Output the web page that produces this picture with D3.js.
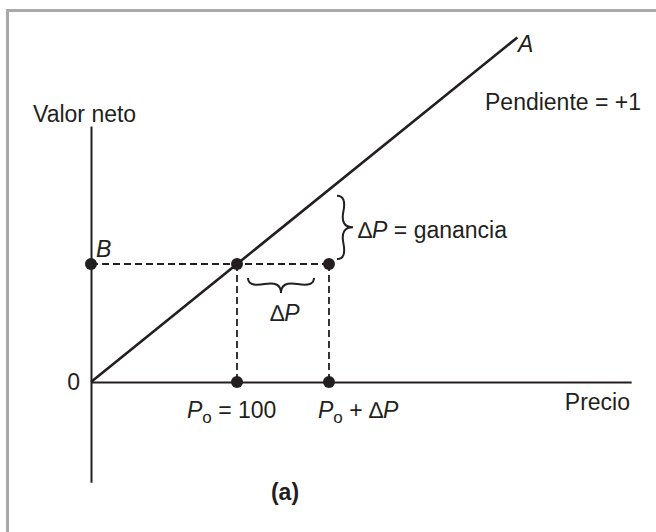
<!DOCTYPE html>
<html>
<head>
<meta charset="utf-8">
<script src="https://cdn.jsdelivr.net/npm/d3@7"></script>
<style>
  body { margin: 0; background: #fff; }
  text { font-family: "Liberation Sans", Arial, sans-serif; fill: #231f20; }
</style>
</head>
<body>
<script>
const svgW = 656;
const svgH = 532;
const ink = '#231f20';

// datos (precio y valor neto en las mismas unidades)
const priceExtent = [0, 370];      // eje x
const valueExtent = [-85, 217];    // eje y
const p0 = 100;
const deltaP = 63;
const lineA = [[0, 0], [292, 292]];  // pendiente = +1
const dots = [[0, p0], [p0, p0], [p0 + deltaP, p0], [p0, 0], [p0 + deltaP, 0]];

const svg = d3.select('body')
  .append('svg')
  .attr('width', svgW)
  .attr('height', svgH);

// marco gris
svg.append('rect')
  .attr('x', 7.5).attr('y', 10.5)
  .attr('width', 700).attr('height', 600)
  .attr('fill', 'none')
  .attr('stroke', '#a9a9a9')
  .attr('stroke-width', 3);

const ox = 91, oy = 382;      // origen
const kx = 1.46, ky = 1.18;   // px por unidad
const x = d3.scaleLinear()
  .domain(priceExtent)
  .range(priceExtent.map(v => ox + v * kx));
const y = d3.scaleLinear()
  .domain(valueExtent)
  .range(valueExtent.map(v => oy - v * ky));

// ejes
svg.append('g')
  .attr('transform', `translate(0, ${y(0)})`)
  .call(d3.axisBottom(x).tickValues([]).tickSizeOuter(0))
  .call(g => g.select('.domain').attr('stroke', ink).attr('stroke-width', 2));

svg.append('g')
  .attr('transform', `translate(${x(0)}, 0)`)
  .call(d3.axisLeft(y).tickValues([]).tickSizeOuter(0))
  .call(g => g.select('.domain').attr('stroke', ink).attr('stroke-width', 2));

// línea A
const line = d3.line().x(d => x(d[0])).y(d => y(d[1]));
svg.append('path')
  .attr('d', line(lineA))
  .attr('fill', 'none')
  .attr('stroke', ink)
  .attr('stroke-width', 2.6);

// líneas discontinuas
const dashed = [
  [[0, p0], [p0 + deltaP, p0]],
  [[p0, p0], [p0, 0]],
  [[p0 + deltaP, p0], [p0 + deltaP, 0]]
];
svg.selectAll('.dash')
  .data(dashed)
  .enter()
  .append('path')
  .attr('class', 'dash')
  .attr('d', line)
  .attr('fill', 'none')
  .attr('stroke', ink)
  .attr('stroke-width', 1.8)
  .attr('stroke-dasharray', '7,4');

// puntos
svg.selectAll('.dot')
  .data(dots)
  .enter()
  .append('circle')
  .attr('class', 'dot')
  .attr('cx', d => x(d[0]))
  .attr('cy', d => y(d[1]))
  .attr('r', 6)
  .attr('fill', ink);

// llaves
function brace(x1, y1, x2, y2, w, q) {
  let dx = x1 - x2, dy = y1 - y2;
  const len = Math.sqrt(dx * dx + dy * dy);
  dx = dx / len; dy = dy / len;
  const qx1 = x1 + q * w * dy, qy1 = y1 - q * w * dx;
  const qx2 = (x1 - .25 * len * dx) + (1 - q) * w * dy, qy2 = (y1 - .25 * len * dy) - (1 - q) * w * dx;
  const tx1 = (x1 - .5 * len * dx) + w * dy, ty1 = (y1 - .5 * len * dy) - w * dx;
  const qx3 = x2 + q * w * dy, qy3 = y2 - q * w * dx;
  const qx4 = (x1 - .75 * len * dx) + (1 - q) * w * dy, qy4 = (y1 - .75 * len * dy) - (1 - q) * w * dx;
  return `M ${x1} ${y1} Q ${qx1} ${qy1} ${qx2} ${qy2} T ${tx1} ${ty1} ` +
         `M ${x2} ${y2} Q ${qx3} ${qy3} ${qx4} ${qy4} T ${tx1} ${ty1}`;
}

// ganancia: de p0 a p0 + deltaP en el eje de valor
svg.append('path')
  .attr('d', brace(x(p0 + deltaP) + 8, y(p0) - 5, x(p0 + deltaP) + 8, y(p0 + deltaP) + 6, 16, 0.6))
  .attr('fill', 'none').attr('stroke', ink).attr('stroke-width', 2);

// deltaP debajo de la línea discontinua
svg.append('path')
  .attr('d', brace(x(p0) + 11, y(p0) + 14, x(p0 + deltaP) - 15, y(p0) + 14, 15, 0.6))
  .attr('fill', 'none').attr('stroke', ink).attr('stroke-width', 2);

// textos
const fs = 23;
function label(px, py, parts, anchor) {
  const t = svg.append('text')
    .attr('x', px).attr('y', py)
    .attr('font-size', fs)
    .attr('text-anchor', anchor || 'start');
  parts.forEach(p => {
    const s = t.append('tspan').text(p.t);
    if (p.i) s.attr('font-style', 'italic');
    if (p.sub) s.attr('font-size', 17).attr('dy', 5);
    if (p.up) s.attr('dy', -5);
  });
  return t;
}

label(33, 122, [{ t: 'Valor neto' }]);
label(96, 257, [{ t: 'B', i: true }]);
label(518, 52, [{ t: 'A', i: true }]);
label(485, 110, [{ t: 'Pendiente = +1' }]);
label(358, 238, [{ t: '\u2206' }, { t: 'P', i: true }, { t: ' = ganancia' }]);
label(x((p0 + p0 + deltaP) / 2) + 2, 321, [{ t: '\u2206' }, { t: 'P', i: true }], 'middle');
label(80, 390, [{ t: '0' }], 'end');
label(187, 418, [{ t: 'P', i: true }, { t: 'o', sub: true }, { t: ' = 100', up: true }]);
label(318, 418, [{ t: 'P', i: true }, { t: 'o', sub: true }, { t: ' + \u2206', up: true }, { t: 'P', i: true }]);
label(630, 410, [{ t: 'Precio' }], 'end');
label(285, 500, [{ t: '(a)' }], 'middle').attr('font-weight', 'bold');
</script>
</body>
</html>
